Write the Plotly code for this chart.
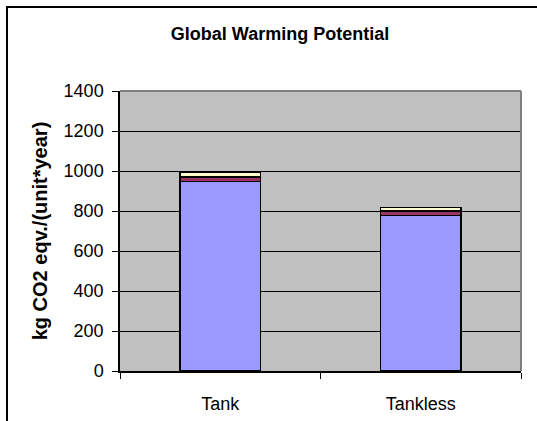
import plotly.graph_objects as go

categories = ["Tank", "Tankless"]
series_names = ["Series 1", "Series 2", "Series 3"]
series_1 = [947, 778]
series_2 = [23, 23]
series_3 = [23, 17]
colors = ["#9999FF", "#993366", "#FFFFCC"]
y_ticks = [0, 200, 400, 600, 800, 1000, 1200, 1400]

W, H = 537, 421
L, R, T, B = 120, 16, 91, 50
pw, ph = W - L - R, H - T - B

def px_x(x):
    return (x - L) / pw

def px_y(y):
    return (H - B - y) / ph

FONT = "Liberation Sans, Arial, sans-serif"

fig = go.Figure()
for name, vals, c in zip(series_names, [series_1, series_2, series_3], colors):
    fig.add_trace(go.Bar(x=categories, y=vals, name=name, marker=dict(color=c, line=dict(color="black", width=1.5)), width=0.4))

fig.update_layout(
    barmode="stack",
    width=W, height=H,
    margin=dict(l=L, r=R, t=T, b=B, pad=0, autoexpand=False),
    paper_bgcolor="white",
    plot_bgcolor="#C0C0C0",
    showlegend=False,
    font=dict(family=FONT, color="black", size=18),
    title=dict(text="<b>Global Warming Potential</b>", x=280 / W, xref="container", xanchor="center",
               y=1 - 34 / H, yref="container", yanchor="middle", font=dict(size=18, family=FONT, color="black")),
    xaxis=dict(showline=True, linecolor="black", linewidth=1.5, ticks="outside", ticklen=6,
               tickcolor="black", tickson="boundaries", showgrid=False, tickfont=dict(size=18),
               ticklabelstandoff=16, automargin=False),
    yaxis=dict(range=[0, 1400], tickvals=y_ticks, showline=True, linecolor="black", linewidth=1.5,
               ticks="outside", ticklen=6, tickcolor="black", showgrid=True, gridcolor="black",
               gridwidth=1, zeroline=False, tickfont=dict(size=18), ticklabelstandoff=5, automargin=False,
               title=dict(text="<b>kg CO2 eqv./(unit*year)</b>", font=dict(size=20), standoff=11)),
    shapes=[
        dict(type="line", xref="paper", yref="paper", x0=0, x1=1, y0=1, y1=1, line=dict(color="#808080", width=2)),
        dict(type="line", xref="paper", yref="paper", x0=1, x1=1, y0=0, y1=1, line=dict(color="#808080", width=2)),
        dict(type="rect", xref="paper", yref="paper", x0=px_x(7), y0=px_y(7), x1=px_x(560), y1=px_y(440),
             line=dict(color="black", width=2), fillcolor="rgba(0,0,0,0)", layer="above"),
    ],
)
fig.write_html("out.html", config={"displayModeBar": False},
               post_script="document.body.style.margin='0';")
